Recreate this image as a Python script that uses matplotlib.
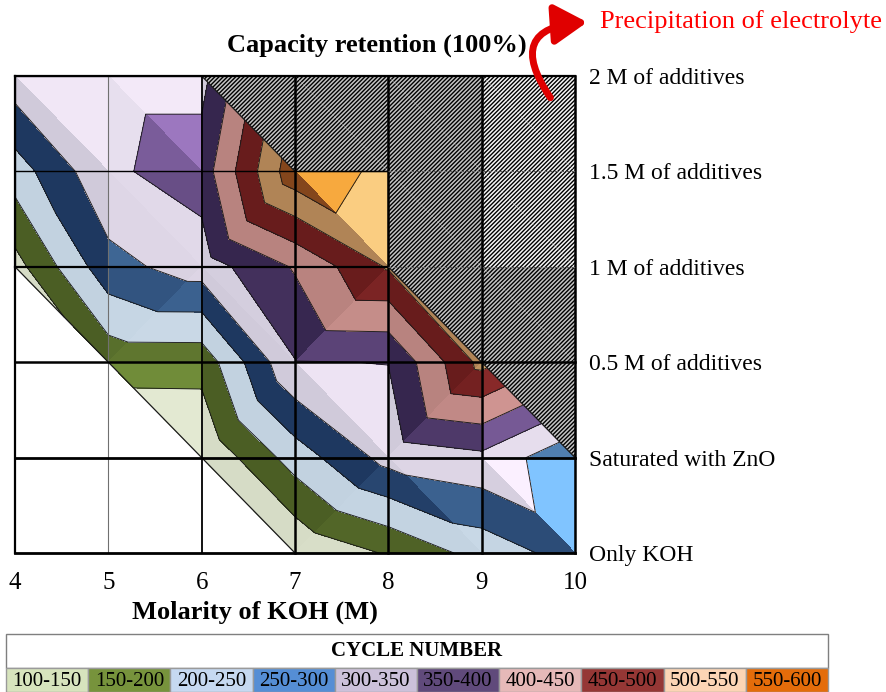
import numpy as np
import matplotlib
matplotlib.use("Agg")
import matplotlib.pyplot as plt
import matplotlib.tri as mtri
from matplotlib.patches import Polygon, Rectangle, FancyArrowPatch
from matplotlib.collections import LineCollection
from matplotlib.colors import to_rgb

plt.rcParams['font.family'] = ['Liberation Serif', 'DejaVu Serif']
plt.rcParams['hatch.linewidth'] = 1.0

W, H = 886, 692

# ---- data -------------------------------------------------------------
koh_molarity = [4, 5, 6, 7, 8, 9, 10]
electrolyte_labels = ['Only KOH', 'Saturated with ZnO', '0.5 M of additives',
                      '1 M of additives', '1.5 M of additives', '2 M of additives']

nan = np.nan
# cycle number at which capacity retention drops (NaN = no data / precipitation)
cycles_only_koh = [nan, nan, nan, 105, 155, 219, 272]
cycles_sat_zno  = [nan, nan, 104, 223, 318, 338, 258]
cycles_add_05   = [nan, 167, 168, 348, 351, 515, nan]
cycles_add_10   = [131, 283, 324, 405, 505, nan, nan]
cycles_add_15   = [225, 341, 374, 585, 536, nan, nan]
cycles_add_20   = [330, 334, 334, nan, nan, nan, nan]

band_edges = [100, 150, 200, 250, 300, 350, 400, 450, 500, 550, 600]
band_labels = ['100-150', '150-200', '200-250', '250-300', '300-350',
               '350-400', '400-450', '450-500', '500-550', '550-600']
legend_colors = ['#d7e4bd', '#77933c', '#c6d9f1', '#558ed5', '#ccc1da',
                 '#604a7b', '#e6b9b8', '#953735', '#fcd5b5', '#e46c0a']
# lit / shadowed look of each band on the 3D-shaded surface
light_shades = ['#eef4dc', '#8db04a', '#d8e6f4', '#80c4ff', '#fbf0ff',
                '#b48ada', '#e6a4a2', '#a83636', '#ffd284', '#ffb040']
dark_shades = ['#d6dcc6', '#4b5e24', '#c2d2e0', '#1e3860', '#d0cada',
               '#36264e', '#b8837f', '#681c1c', '#b08456', '#84461c']

LIGHT = np.array([0.7, 0.2, 0.68])
LIGHT = LIGHT / np.linalg.norm(LIGHT)

Z = np.array([cycles_only_koh, cycles_sat_zno, cycles_add_05,
              cycles_add_10, cycles_add_15, cycles_add_20])
ny, nx = Z.shape


def node_xy(node):
    j, i = node
    return koh_molarity[i], j


# split every grid cell in two triangles along the "ridge" diagonal (like Excel)
drawn, blank = [], []
for j in range(ny - 1):
    for i in range(nx - 1):
        bl, br, tl, tr = (j, i), (j, i + 1), (j + 1, i), (j + 1, i + 1)
        corners = [bl, br, tl, tr]
        ok = [np.isfinite(Z[c]) for c in corners]
        if all(ok):
            if Z[tl] + Z[br] >= Z[bl] + Z[tr]:
                drawn += [(tl, tr, br), (tl, bl, br)]
            else:
                drawn += [(bl, tl, tr), (bl, br, tr)]
        elif sum(ok) == 3:
            missing = corners[ok.index(False)]
            drawn.append(tuple(c for c, k in zip(corners, ok) if k))
            if missing in (bl, tr):
                blank.append((missing, tl, br))
            else:
                blank.append((missing, bl, tr))
        else:
            blank += [(tl, tr, br), (tl, bl, br)]


def shade(tri):
    p = np.array([[*node_xy(n), Z[n] / 100.0] for n in tri])
    nrm = np.cross(p[1] - p[0], p[2] - p[0])
    if nrm[2] < 0:
        nrm = -nrm
    b = np.dot(nrm / np.linalg.norm(nrm), LIGHT)
    t = np.clip((b + 0.1) / 1.0, 0, 1)
    return [tuple(np.array(to_rgb(d)) * (1 - t) + np.array(to_rgb(l)) * t)
            for l, d in zip(light_shades, dark_shades)]


fig = plt.figure(figsize=(W / 100, H / 100), dpi=100)
ax = fig.add_axes([15 / W, 1 - 553 / H, 560 / W, 477 / H])
ax.set_xlim(4, 10)
ax.set_ylim(0, 5)
for s in ax.spines.values():
    s.set_visible(False)

# filled contour bands, one triangle at a time so each face gets its own shading
for tri in drawn:
    xs = [node_xy(n)[0] for n in tri]
    ys = [node_xy(n)[1] for n in tri]
    zs = [Z[n] for n in tri]
    t1 = mtri.Triangulation(xs, ys, [[0, 1, 2]])
    ax.tricontourf(t1, zs, levels=band_edges, colors=shade(tri), antialiased=False)

# contour outlines over the whole surface
nodes = sorted({n for tri in drawn for n in tri})
idx = {n: k for k, n in enumerate(nodes)}
tri_all = mtri.Triangulation([node_xy(n)[0] for n in nodes],
                             [node_xy(n)[1] for n in nodes],
                             [[idx[n] for n in tri] for tri in drawn])
zall = np.array([Z[n] for n in nodes])
ax.tricontour(tri_all, zall, levels=band_edges[1:-1], colors='#1a1a1a', linewidths=0.65)

edges = []
for t, nb in zip(tri_all.triangles, tri_all.neighbors):
    for k in range(3):
        if nb[k] == -1:
            a, b = t[k], t[(k + 1) % 3]
            edges.append([(tri_all.x[a], tri_all.y[a]), (tri_all.x[b], tri_all.y[b])])
ax.add_collection(LineCollection(edges, colors='#1a1a1a', linewidths=0.9))

# precipitation zone (hatched) in the upper right
for tri in blank:
    if sum(i + j for j, i in tri) / 3 < (nx + ny) / 2 - 1:
        continue
    xy = [node_xy(n) for n in tri]
    cx = np.mean([p[0] for p in xy])
    cy = np.mean([p[1] for p in xy])
    face = '#f6f6f6' if (cx > 9 and cy > 3) else '#c4c4c4'
    ax.add_patch(Polygon(xy, closed=True, facecolor=face, edgecolor='black',
                         linewidth=0, hatch='////////'))

# grid
v_widths = [1.6, 0.8, 1.3, 1.8, 1.8, 1.8, 1.8]
v_colors = ['black', '#707070', 'black', 'black', 'black', 'black', 'black']
for x, lw, c in zip(koh_molarity, v_widths, v_colors):
    ax.axvline(x, color=c, lw=lw, clip_on=False, zorder=5)
h_widths = [2.0, 2.0, 1.8, 1.6, 1.0, 1.6]
for j, lw in enumerate(h_widths):
    row = Z[j]
    last = koh_molarity[np.where(np.isfinite(row))[0][-1]]
    if j in (3, 4):
        ax.plot([4, last], [j, j], color='black', lw=lw, clip_on=False, zorder=5)
        ax.plot([last, 10], [j, j], color='#606060', lw=0.8, ls=(0, (3, 2)),
                clip_on=False, zorder=5)
    else:
        ax.axhline(j, color='black', lw=lw, clip_on=False, zorder=5)

ax.set_xticks(koh_molarity)
ax.set_xticklabels([str(x) for x in koh_molarity], fontsize=18)
ax.tick_params(axis='x', length=0, pad=14)
ax.yaxis.tick_right()
ax.set_yticks(range(ny))
ax.set_yticklabels(electrolyte_labels, fontsize=17)
ax.tick_params(axis='y', length=0, pad=10)

fig.text(255 / W, 1 - 612 / H, 'Molarity of KOH (M)', fontsize=19,
         fontweight='bold', ha='center', va='center')
fig.text(377 / W, 1 - 45 / H, 'Capacity retention (100%)', fontsize=19,
         fontweight='bold', ha='center', va='center')
fig.text(600 / W, 1 - 22 / H, 'Precipitation of electrolyte', fontsize=19,
         color='#ff0000', ha='left', va='center')

arrow = FancyArrowPatch((552 / W, 1 - 100 / H), (590 / W, 1 - 22 / H),
                        transform=fig.transFigure,
                        connectionstyle='arc3,rad=-0.9',
                        arrowstyle='-|>,head_length=0.9,head_width=0.55',
                        mutation_scale=22, lw=5, color='#e00000', zorder=10)
fig.add_artist(arrow)

# legend table
lax = fig.add_axes([6 / W, 0, 822 / W, 58 / H])
lax.set_xlim(0, len(band_labels))
lax.set_ylim(0, 58)
lax.axis('off')
lax.add_patch(Rectangle((0, 24), len(band_labels), 34, facecolor='white',
                        edgecolor='#7f7f7f', lw=1, clip_on=False))
lax.text(len(band_labels) / 2, 41, 'CYCLE NUMBER', fontsize=15,
         fontweight='bold', ha='center', va='center')
for k, (lab, col) in enumerate(zip(band_labels, legend_colors)):
    lax.add_patch(Rectangle((k, 0), 1, 24, facecolor=col, edgecolor='#9a9a9a',
                            lw=1, clip_on=False))
    lax.text(k + 0.5, 11, lab, fontsize=15, ha='center', va='center')

fig.savefig('out.png', dpi=100)
